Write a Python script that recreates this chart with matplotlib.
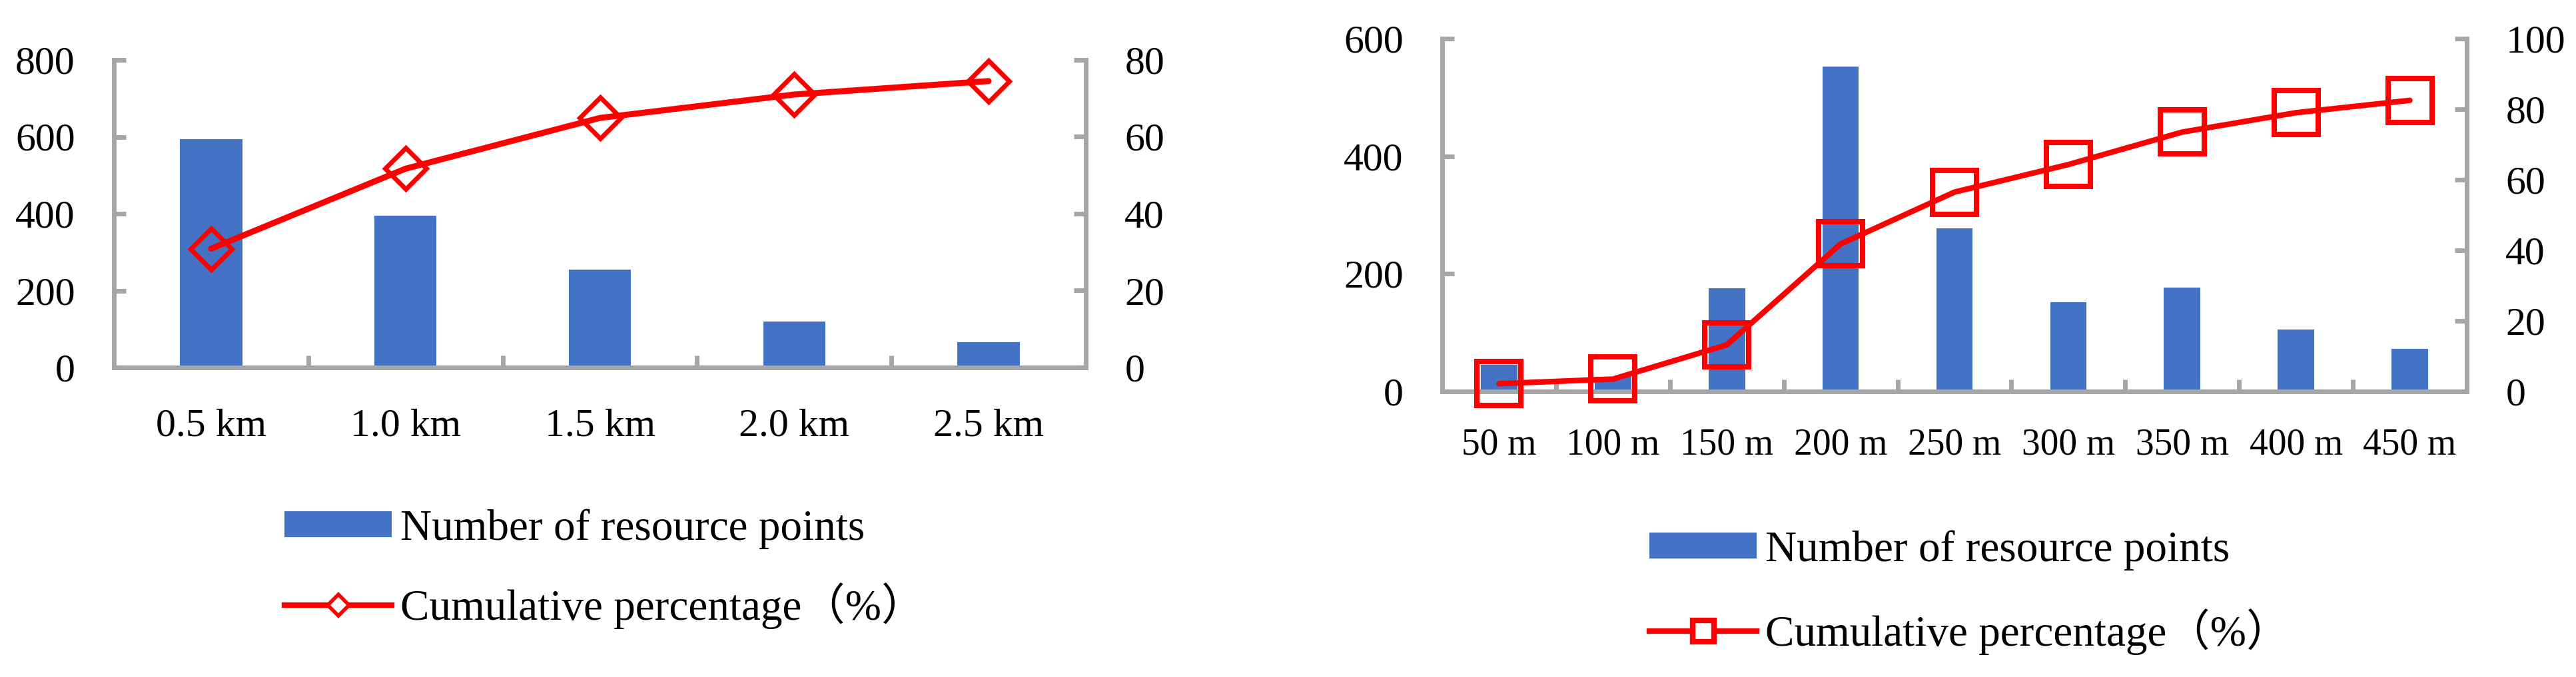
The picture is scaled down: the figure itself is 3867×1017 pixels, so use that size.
import matplotlib
matplotlib.use("Agg")
import matplotlib.pyplot as plt
from matplotlib.lines import Line2D
from matplotlib.patches import Patch
import numpy as np

# ---------------- data ----------------
left_categories = ['0.5 km', '1.0 km', '1.5 km', '2.0 km', '2.5 km']
left_counts = [594, 394, 255, 119, 66]
left_cumulative = [30.9, 51.7, 64.9, 71.0, 74.5]

right_categories = ['50 m', '100 m', '150 m', '200 m', '250 m', '300 m', '350 m', '400 m', '450 m']
right_counts = [45, 25, 175, 553, 277, 152, 177, 105, 72]
right_cumulative = [2.2, 3.5, 13.2, 41.8, 56.5, 64.3, 73.5, 79.0, 82.5]

left_yticks = [0, 200, 400, 600, 800]
left_y2ticks = [0, 20, 40, 60, 80]
right_yticks = [0, 200, 400, 600]
right_y2ticks = [0, 20, 40, 60, 80, 100]

bar_label = 'Number of resource points'
line_label = 'Cumulative percentage（%）'

# ---------------- style ----------------
plt.rcParams['font.family'] = ['Liberation Serif', 'Noto Sans CJK SC', 'DejaVu Sans']
BAR = '#4472C4'
RED = '#FF0000'
GRAY = '#A6A6A6'
SPW = 5.0
TICKFS = 43

W, H = 3867, 1017
fig = plt.figure(figsize=(W / 100, H / 100), dpi=100)


def make_panel(rect, cats, counts, cum, yt, y2t, marker, ms, mew, lw, xfs, xpad):
    ax = fig.add_axes(rect)
    ax2 = ax.twinx()
    x = np.arange(len(cats))
    ax.bar(x, counts, width=0.32, color=BAR, zorder=2)
    ax2.plot(x, cum, color=RED, lw=lw, marker=marker, ms=ms, mfc='none',
             mec=RED, mew=mew, clip_on=False, solid_capstyle='round',
             solid_joinstyle='round', zorder=5)
    ax.set_xlim(-0.5, len(cats) - 0.5)
    ax.set_ylim(yt[0], yt[-1])
    ax2.set_ylim(y2t[0], y2t[-1])
    ax.set_yticks(yt)
    ax2.set_yticks(y2t)
    ax.set_xticks(x)
    ax.set_xticklabels(cats)
    ax.set_xticks(np.arange(0.5, len(cats) - 1, 1.0), minor=True)
    for a in (ax, ax2):
        for s in a.spines.values():
            s.set_visible(False)
        a.patch.set_visible(False)
    for side in ('left', 'bottom'):
        ax.spines[side].set_visible(True)
        ax.spines[side].set_color(GRAY)
        ax.spines[side].set_linewidth(SPW)
    ax2.spines['right'].set_visible(True)
    ax2.spines['right'].set_color(GRAY)
    ax2.spines['right'].set_linewidth(SPW)
    ax.tick_params(axis='y', direction='in', length=13, width=SPW, color=GRAY,
                   labelsize=TICKFS, pad=42)
    ax2.tick_params(axis='y', direction='in', length=13, width=SPW, color=GRAY,
                    labelsize=TICKFS, pad=42)
    ax.tick_params(axis='x', which='major', length=0, labelsize=xfs, pad=xpad)
    ax.tick_params(axis='x', which='minor', direction='in', length=13, width=SPW,
                   color=GRAY)
    return ax, ax2


def fx(px):
    return px / W


def fy(py):
    return 1 - py / H


# left panel
make_panel([fx(171), fy(552), fx(1630) - fx(171), fy(90) - fy(552)],
           left_categories, left_counts, left_cumulative, left_yticks, left_y2ticks,
           'D', 32, 5.0, 6.5, TICKFS, 44)

# right panel
make_panel([fx(2165), fy(588), fx(3703) - fx(2165), fy(58) - fy(588)],
           right_categories, right_counts, right_cumulative, right_yticks, right_y2ticks,
           's', 47.5, 5.8, 6.0, 40, 39)

LEGFS = 47

h_bar = Patch(facecolor=BAR, edgecolor='none')
h_line_d = Line2D([], [], color=RED, lw=6, marker='D', ms=16, mfc='white', mec=RED, mew=4)
h_line_s = Line2D([], [], color=RED, lw=6, marker='s', ms=23, mfc='white', mec=RED, mew=6)

common = dict(frameon=False, loc='upper left', borderpad=0, borderaxespad=0,
              handlelength=2.47, handleheight=0.55, handletextpad=0.2,
              fontsize=LEGFS)

fig.legend([h_bar, h_line_d], [bar_label, line_label],
           bbox_to_anchor=(fx(427), fy(764)), labelspacing=0.77, **common)
fig.legend([h_bar, h_line_s], [bar_label, line_label],
           bbox_to_anchor=(fx(2476), fy(796)), labelspacing=0.88, **common)

fig.savefig('out.png', dpi=100)
